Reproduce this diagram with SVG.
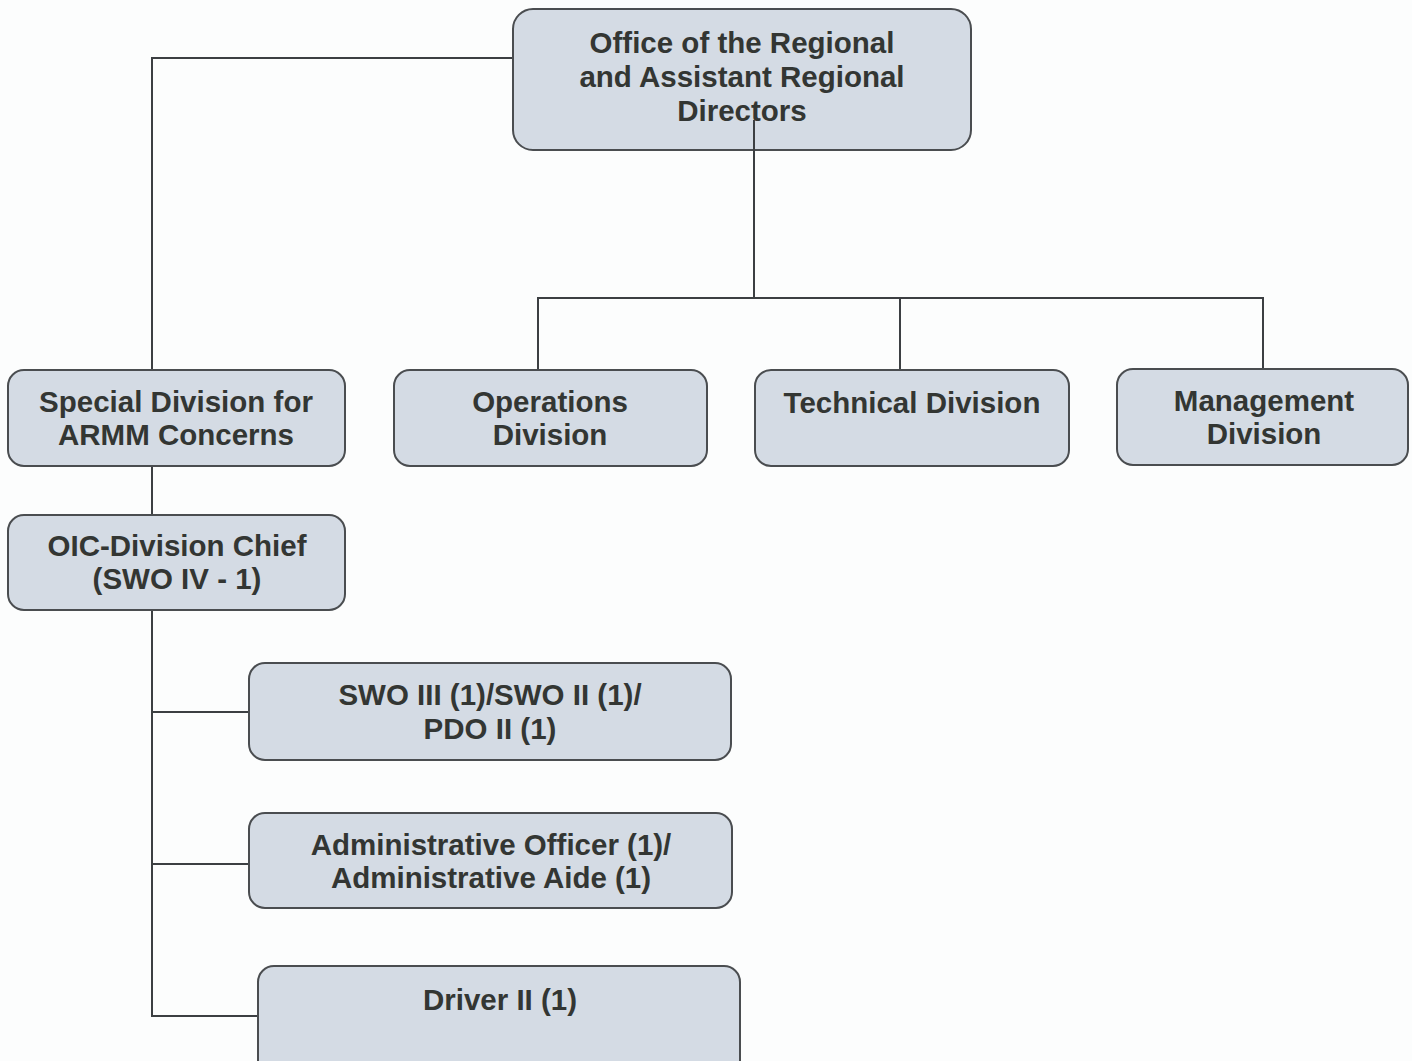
<svg xmlns="http://www.w3.org/2000/svg" width="1412" height="1061" viewBox="0 0 1412 1061">
  <style>
    .box { fill: #d4dbe4; stroke: #4a4d50; stroke-width: 2; }
    .lbl { font-family: "Liberation Sans", Arial, sans-serif; font-weight: bold; font-size: 29.5px; fill: #333633; text-anchor: middle; }
    .wire { fill: none; stroke: #3c3f42; stroke-width: 2; }
  </style>
  <rect width="1412" height="1061" fill="#fcfdfd"/>

  <g id="connectors">
    <path class="wire" d="M513 58 H152 V370"/>
    <path class="wire" d="M152 466 V515"/>
    <path class="wire" d="M152 610 V1016 H258"/>
    <path class="wire" d="M152 712 H249"/>
    <path class="wire" d="M152 864 H249"/>
    <path class="wire" d="M538 370 V298 H1263 V370"/>
    <path class="wire" d="M900 298 V370"/>
  </g>

  <g id="regional-office">
    <rect class="box" x="513" y="9" width="458" height="141" rx="20"/>
    <text class="lbl" x="742" y="53">Office of the Regional</text>
    <text class="lbl" x="742" y="87">and Assistant Regional</text>
    <text class="lbl" x="742" y="121">Directors</text>
  </g>
  <!-- trunk to the divisions starts inside the office box -->
  <path class="wire" d="M754 120 V298"/>

  <g id="special-division">
    <rect class="box" x="8" y="370" width="337" height="96" rx="16"/>
    <text class="lbl" x="176" y="412">Special Division for</text>
    <text class="lbl" x="176" y="445">ARMM Concerns</text>
  </g>

  <g id="operations-division">
    <rect class="box" x="394" y="370" width="313" height="96" rx="16"/>
    <text class="lbl" x="550" y="412">Operations</text>
    <text class="lbl" x="550" y="445">Division</text>
  </g>

  <g id="technical-division">
    <rect class="box" x="755" y="370" width="314" height="96" rx="16"/>
    <text class="lbl" x="912" y="413">Technical Division</text>
  </g>

  <g id="management-division">
    <rect class="box" x="1117" y="369" width="291" height="96" rx="16"/>
    <text class="lbl" x="1264" y="411">Management</text>
    <text class="lbl" x="1264" y="444">Division</text>
  </g>

  <g id="oic-division-chief">
    <rect class="box" x="8" y="515" width="337" height="95" rx="16"/>
    <text class="lbl" x="177" y="556">OIC-Division Chief</text>
    <text class="lbl" x="177" y="589">(SWO IV - 1)</text>
  </g>

  <g id="swo-pdo">
    <rect class="box" x="249" y="663" width="482" height="97" rx="16"/>
    <text class="lbl" x="490" y="705">SWO III (1)/SWO II (1)/</text>
    <text class="lbl" x="490" y="739">PDO II (1)</text>
  </g>

  <g id="administrative">
    <rect class="box" x="249" y="813" width="483" height="95" rx="16"/>
    <text class="lbl" x="491" y="855">Administrative Officer (1)/</text>
    <text class="lbl" x="491" y="888">Administrative Aide (1)</text>
  </g>

  <g id="driver">
    <rect class="box" x="258" y="966" width="482" height="110" rx="16"/>
    <text class="lbl" x="500" y="1010">Driver II (1)</text>
  </g>
</svg>
